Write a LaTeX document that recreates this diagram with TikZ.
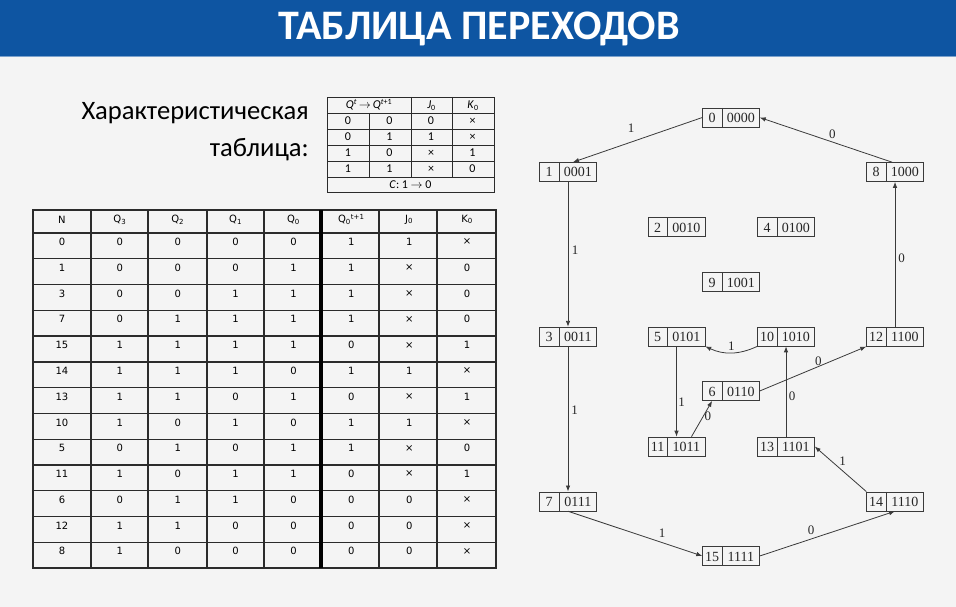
\documentclass[tikz,border=0pt]{standalone}
\usepackage{fontspec}
\setmainfont{Liberation Serif}
\newfontfamily\calfont{Carlito}
\newfontfamily\tabfont{DejaVu Sans}
\usepackage{xcolor}
\usetikzlibrary{arrows.meta,positioning,shapes.multipart}

\definecolor{titleblue}{HTML}{0E55A2}
\definecolor{pagebg}{HTML}{F4F4F4}
\definecolor{gridc}{HTML}{2B2B2B}
\definecolor{linec}{HTML}{3A3A3A}

% state box: number | code
\newcommand{\stt}[2]{\makebox[19pt]{\rule[-4.5pt]{0pt}{19pt}#1}\nodepart{two}\makebox[37pt]{\rule[-4.5pt]{0pt}{19pt}#2}}

\begin{document}
\begin{tikzpicture}[x=1pt, y=-1pt,
    state/.style={rectangle split, rectangle split horizontal, rectangle split parts=2, draw=linec, line width=0.7pt, inner xsep=0pt, inner ysep=0pt, font=\fontsize{14}{14}\selectfont, text=black!85},
    arrow/.style={-{Latex[length=6pt,width=4.5pt]}, draw=linec, line width=0.8pt},
    lbl/.style={font=\fontsize{13}{13}\selectfont, inner sep=1pt, text=black!85},
    cell/.style={font=\tabfont\fontsize{10}{10}\selectfont, inner sep=0pt, text=black},
    ccell/.style={font=\calfont\fontsize{12}{12}\selectfont, inner sep=0pt, text=black}
]
    \useasboundingbox (0,0) rectangle (956,607);
    \fill[pagebg] (0,0) rectangle (956,607);

    % Title
    \fill[titleblue] (0,0) rectangle (956,56);
    \draw[titleblue!55!white, line width=1pt] (0,56.5) -- (956,56.5);
    \node[font=\calfont\bfseries\fontsize{42}{42}\selectfont, text=white, anchor=base] (title) at (479,40) {ТАБЛИЦА ПЕРЕХОДОВ};

    % Characteristic table caption
    \node[font=\calfont\fontsize{26.6}{30}\selectfont, anchor=base east, inner sep=0pt] (captop) at (309,120) {Характеристическая};
    \node[font=\calfont\fontsize{26.6}{30}\selectfont, anchor=base east, inner sep=0pt] (capbot) at (309,157) {таблица:};

    % Characteristic table
    \draw[gridc, line width=0.8pt] (327,97) rectangle (494,192);
    \foreach \y in {113,129,145,161,177}
        \draw[gridc, line width=0.8pt] (327,\y) -- (494,\y);
    \draw[gridc, line width=0.8pt] (369,113) -- (369,177);
    \foreach \x in {411,452}
        \draw[gridc, line width=0.8pt] (\x,97) -- (\x,177);
    \node[ccell] (chead) at (369,105) {\textit{Q}\textsuperscript{\textit{t}}\,$\rightarrow$\,\textit{Q}\textsuperscript{\textit{t}+1}};
    \node[ccell] (cj) at (431.5,105.5) {\textit{J}\textsubscript{0}};
    \node[ccell] (ck) at (473,105.5) {\textit{K}\textsubscript{0}};
    \foreach \row [count=\r] in {{0,0,0,×},{0,1,1,×},{1,0,×,1},{1,1,×,0}}
        \foreach \v [count=\c] in \row
            \node[ccell] (c\r-\c) at ({348+41.5*(\c-1)}, {121+16*(\r-1)}) {\v};
    \node[ccell] (cclk) at (410.5,184.5) {\textit{C}: 1 $\rightarrow$ 0};

    % Transition table
    \draw[gridc, line width=1.3pt] (33,210) rectangle (496,568);
    \draw[gridc, line width=1.3pt] (33,233) -- (496,233);
    \foreach \k in {1,...,12}
        \draw[gridc, line width=1.3pt] (33,{233+25.77*\k}) -- (496,{233+25.77*\k});
    \foreach \x in {91,148,207,264,379,437}
        \draw[gridc, line width=1.3pt] (\x,210) -- (\x,568);
    \draw[black, line width=3.6pt] (321,210) -- (321,568);
    \foreach \h [count=\c] in {N,Q\textsubscript{3},Q\textsubscript{2},Q\textsubscript{1},Q\textsubscript{0},Q\textsubscript{0}\textsuperscript{t+1},J\textsubscript{0},K\textsubscript{0}}
        \node[cell] (h\c) at ({33+57.875*(\c-0.5)}, 219.5) {\h};
    \foreach \row [count=\r] in {{0,0,0,0,0,1,1,×},{1,0,0,0,1,1,×,0},{3,0,0,1,1,1,×,0},
        {7,0,1,1,1,1,×,0},{15,1,1,1,1,0,×,1},{14,1,1,1,0,1,1,×},{13,1,1,0,1,0,×,1},
        {10,1,0,1,0,1,1,×},{5,0,1,0,1,1,×,0},{11,1,0,1,1,0,×,1},{6,0,1,1,0,0,0,×},
        {12,1,1,0,0,0,0,×},{8,1,0,0,0,0,0,×}}
        \foreach \v [count=\c] in \row
            \node[cell] (t\r-\c) at ({33+57.875*(\c-0.5)}, {242+25.77*(\r-1)}) {\v};

    % States
    \node[state] (s0) at (731,117.5) {\stt{0}{0000}};
    \node[state] (s1) at (568,172) {\stt{1}{0001}};
    \node[state] (s8) at (895,172) {\stt{8}{1000}};
    \node[state] (s2) at (676.5,227) {\stt{2}{0010}};
    \node[state] (s4) at (786,227) {\stt{4}{0100}};
    \node[state] (s9) at (731,282) {\stt{9}{1001}};
    \node[state, below=145pt of s1] (s3) {\stt{3}{0011}};
    \node[state, below=145pt of s8] (s12) {\stt{12}{1100}};
    \node[state] (s5) at (676.5,336.5) {\stt{5}{0101}};
    \node[state] (s10) at (786,336.5) {\stt{10}{1010}};
    \node[state] (s6) at (731,391) {\stt{6}{0110}};
    \node[state] (s11) at (676.5,446.5) {\stt{11}{1011}};
    \node[state] (s13) at (786,446.5) {\stt{13}{1101}};
    \node[state, below=145pt of s3] (s7) {\stt{7}{0111}};
    \node[state, below=145pt of s12] (s14) {\stt{14}{1110}};
    \node[state] (s15) at (731,556) {\stt{15}{1111}};

    % Transitions
    \draw[arrow] (s0.west) -- node[lbl, pos=0.55, above=8pt] {1} ([xshift=5pt]s1.north);
    \draw[arrow] ([xshift=-3pt]s8.north) -- node[lbl, pos=0.45, above=2.5pt] {0} (s0.east);
    \draw[arrow] (s1) -- node[lbl, pos=0.47, right=2.5pt] {1} (s3);
    \draw[arrow] (s3) -- node[lbl, pos=0.44, right=2pt] {1} (s7);
    \draw[arrow] (s7.south) -- node[lbl, pos=0.7, above=4pt] {1} (s15.west);
    \draw[arrow] (s15.east) -- node[lbl, pos=0.38, above=3pt] {0} (s14.south);
    \draw[arrow] (s14.north west) -- node[lbl, pos=0.55, above right=0pt] {1} (s13.east);
    \draw[arrow] (s13) -- node[lbl, pos=0.45, right=1.5pt] {0} (s10);
    \draw[arrow] (s10.south west) to[bend left=25] node[lbl, midway, above=0.5pt] {1} (s5.south east);
    \draw[arrow] (s5) -- node[lbl, pos=0.62, right=0.5pt] {1} (s11);
    \draw[arrow] ([xshift=15pt]s11.north) -- node[lbl, pos=0.57, right=0pt] {0} (s6.one south);
    \draw[arrow] (s6.east) -- node[lbl, pos=0.55, above=0pt] {0} (s12.south west);
    \draw[arrow] (s12) -- node[lbl, pos=0.47, right=2pt] {0} (s8);
\end{tikzpicture}
\end{document}
